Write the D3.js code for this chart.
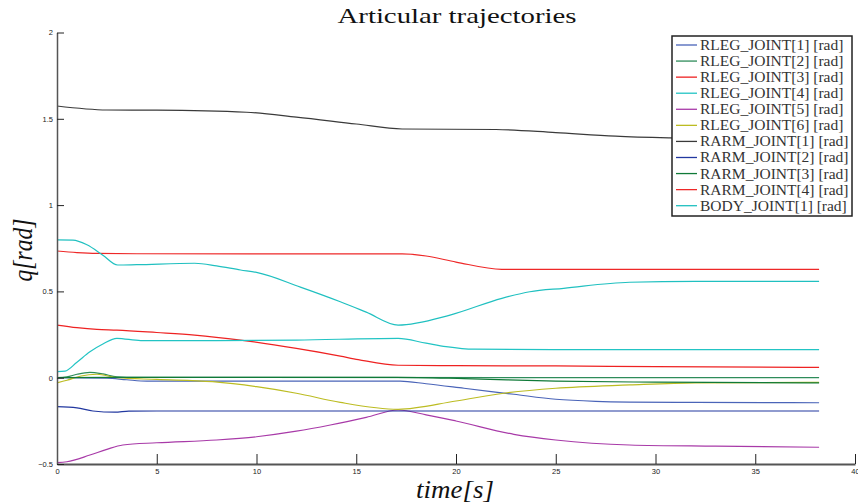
<!DOCTYPE html>
<html>
<head>
<meta charset="utf-8">
<script src="https://cdn.jsdelivr.net/npm/d3@7"></script>
<style>
  html, body { margin: 0; padding: 0; background: #fff; }
  svg { display: block; }
</style>
</head>
<body>
<svg id="chart" width="858" height="504"></svg>
<script>
// ---------- data ----------
const seriesNames = [
  "RLEG_JOINT[1] [rad]", "RLEG_JOINT[2] [rad]", "RLEG_JOINT[3] [rad]",
  "RLEG_JOINT[4] [rad]", "RLEG_JOINT[5] [rad]", "RLEG_JOINT[6] [rad]",
  "RARM_JOINT[1] [rad]", "RARM_JOINT[2] [rad]", "RARM_JOINT[3] [rad]",
  "RARM_JOINT[4] [rad]", "BODY_JOINT[1] [rad]"
];
const seriesColors = [
  "#4a64b8", "#2e8c5a", "#ee2222", "#22c4c4", "#a83aa8", "#bcbc22",
  "#3a3a3a", "#2238a0", "#107a38", "#ee2828", "#20c0c0"
];

const rleg1_t = [0, 2.5, 3.5, 4.5, 17.2, 18.5, 20.4, 22.9, 25, 27, 28.7, 32, 38.2];
const rleg1_q = [0, -0.002, -0.012, -0.02, -0.02, -0.035, -0.061, -0.096, -0.125, -0.137, -0.141, -0.143, -0.145];

const rleg2_t = [0, 0.5, 1, 1.65, 2.3, 3, 4, 38.2];
const rleg2_q = [0, 0.005, 0.02, 0.031, 0.022, 0.005, 0.002, 0.0];

const rleg3_t = [0, 1, 2, 3, 5, 6.9, 9.2, 12, 14.2, 15.1, 17.1, 20, 25, 30, 38.2];
const rleg3_q = [0.305, 0.29, 0.28, 0.276, 0.262, 0.247, 0.218, 0.17, 0.125, 0.105, 0.072, 0.07, 0.068, 0.064, 0.06];

const rleg4_t = [0, 0.4, 1, 1.65, 2.3, 3, 4.2, 8, 12, 17.1, 18.5, 19.5, 20.9, 25, 38.2];
const rleg4_q = [0.035, 0.038, 0.09, 0.15, 0.195, 0.228, 0.215, 0.215, 0.218, 0.228, 0.2, 0.18, 0.165, 0.163, 0.163];

const rleg5_t = [0, 0.5, 1.65, 2.5, 3.3, 5, 8, 10, 12, 13.7, 15.5, 17.1, 18.5, 20, 22.9, 25, 28.7, 33, 38.2];
const rleg5_q = [-0.492, -0.487, -0.448, -0.415, -0.39, -0.377, -0.361, -0.342, -0.31, -0.274, -0.23, -0.187, -0.215, -0.251, -0.328, -0.361, -0.39, -0.397, -0.403];

const rleg6_t = [0, 0.5, 1.2, 2, 3, 5, 7.8, 10, 12, 14.2, 17.1, 20, 22.4, 25, 28.7, 32, 38.2];
const rleg6_q = [-0.03, -0.015, 0.01, 0.02, 0.0, -0.01, -0.023, -0.052, -0.09, -0.143, -0.183, -0.135, -0.09, -0.061, -0.042, -0.03, -0.027];

const rarm1_t = [0, 2.5, 5, 9.5, 12, 15, 17.3, 22, 25, 28, 30.7, 34, 38.2];
const rarm1_q = [1.574, 1.551, 1.55, 1.538, 1.51, 1.47, 1.441, 1.438, 1.42, 1.40, 1.389, 1.38, 1.37];

const rarm2_t = [0, 1, 1.8, 2.9, 3.6, 5, 38.2];
const rarm2_q = [-0.168, -0.175, -0.193, -0.2, -0.194, -0.193, -0.193];

const rarm3_t = [0, 3, 17, 20.4, 25, 30, 38.2];
const rarm3_q = [0, 0.002, 0.002, -0.005, -0.02, -0.026, -0.03];

const rarm4_t = [0, 1, 2, 4, 17.3, 18.5, 20, 22.3, 38.2];
const rarm4_q = [0.734, 0.725, 0.72, 0.718, 0.717, 0.705, 0.67, 0.628, 0.628];

const body1_t = [0, 0.8, 1.5, 2.3, 3.04, 4, 6.9, 8, 9.2, 10, 12.2, 14.2, 15.5, 17.1, 19.7, 22.3, 23.7, 25.4, 28.7, 32, 38.2];
const body1_q = [0.798, 0.797, 0.77, 0.71, 0.653, 0.655, 0.663, 0.648, 0.624, 0.61, 0.525, 0.44, 0.38, 0.305, 0.363, 0.46, 0.498, 0.518, 0.553, 0.558, 0.558];

const xTicks = [0, 5, 10, 15, 20, 25, 30, 35, 40];
const yTicks = [-0.5, 0, 0.5, 1, 1.5, 2];

const seriesT = [rleg1_t, rleg2_t, rleg3_t, rleg4_t, rleg5_t, rleg6_t, rarm1_t, rarm2_t, rarm3_t, rarm4_t, body1_t];
const seriesQ = [rleg1_q, rleg2_q, rleg3_q, rleg4_q, rleg5_q, rleg6_q, rarm1_q, rarm2_q, rarm3_q, rarm4_q, body1_q];

// ---------- drawing ----------
const svg = d3.select("#chart");
const x0 = 57, x1 = 855, yTop = 32.5, yBot = 464;
const x = d3.scaleLinear().domain([0, 40]).range([x0, x1]);
const y = d3.scaleLinear().domain([-0.5, 2]).range([yBot, yTop]);

const series = seriesNames.map((name, i) => ({
  name, color: seriesColors[i],
  pts: seriesT[i].map((t, j) => ({ t, q: seriesQ[i][j] }))
}));

const line = d3.line().x(d => x(d.t)).y(d => y(d.q)).curve(d3.curveMonotoneX);

svg.append("g").selectAll("path").data(series).join("path")
  .attr("d", d => line(d.pts))
  .attr("fill", "none")
  .attr("stroke", d => d.color)
  .attr("stroke-width", 1.2);

// axes
const tickFont = "Liberation Sans, Arial, sans-serif";
const xAxis = svg.append("g").attr("transform", `translate(0,${yBot})`)
  .call(d3.axisBottom(x).tickValues(xTicks).tickFormat(d3.format("d")).tickSizeInner(-10).tickSizeOuter(0).tickPadding(3));
xAxis.select(".domain").attr("stroke", "#555").attr("stroke-width", 2);
xAxis.selectAll(".tick line").attr("stroke", "#222").attr("stroke-width", 1);
xAxis.selectAll(".tick text").attr("font-family", tickFont).attr("font-size", 7.5).attr("fill", "#222").attr("dy", "0.9em");

const yAxis = svg.append("g").attr("transform", `translate(${x0},0)`)
  .call(d3.axisLeft(y).tickValues(yTicks).tickFormat(d => d === 0 ? "0" : String(d).replace("-", "\u2212")).tickSizeInner(-7).tickSizeOuter(0).tickPadding(4));
yAxis.select(".domain").attr("stroke", "#555").attr("stroke-width", 1.5);
yAxis.selectAll(".tick line").attr("stroke", "#222").attr("stroke-width", 1);
yAxis.selectAll(".tick text").attr("font-family", tickFont).attr("font-size", 7.5).attr("fill", "#222");

// title and axis labels
const serif = "Liberation Serif, 'DejaVu Serif', serif";
svg.append("text").attr("x", 457).attr("y", 23).attr("text-anchor", "middle")
  .attr("font-family", serif).attr("font-size", 22).attr("fill", "#111")
  .attr("textLength", 239).attr("lengthAdjust", "spacingAndGlyphs")
  .text("Articular trajectories");

svg.append("text").attr("transform", "translate(32,250) rotate(-90)").attr("text-anchor", "middle")
  .attr("font-family", serif).attr("font-style", "italic").attr("font-size", 28).attr("fill", "#111")
  .attr("textLength", 63).attr("lengthAdjust", "spacingAndGlyphs")
  .text("q[rad]");

svg.append("text").attr("x", 455).attr("y", 498).attr("text-anchor", "middle")
  .attr("font-family", serif).attr("font-style", "italic").attr("font-size", 26).attr("fill", "#111")
  .attr("textLength", 78).attr("lengthAdjust", "spacingAndGlyphs")
  .text("time[s]");

// legend
const lg = svg.append("g");
lg.append("rect").attr("x", 672).attr("y", 36).attr("width", 180).attr("height", 180)
  .attr("fill", "#fff").attr("stroke", "#222").attr("stroke-width", 1.5);
const rowH = 16.07;
const rows = lg.selectAll("g.row").data(series).join("g").attr("class", "row")
  .attr("transform", (d, i) => `translate(0,${45 + i * rowH})`);
rows.append("line").attr("x1", 676).attr("x2", 697).attr("y1", 0).attr("y2", 0)
  .attr("stroke", d => d.color).attr("stroke-width", 1.3);
rows.append("text").attr("x", 700).attr("y", 5)
  .attr("font-family", serif).attr("font-size", 15.5).attr("fill", "#333")
  .text(d => d.name);
</script>
</body>
</html>
